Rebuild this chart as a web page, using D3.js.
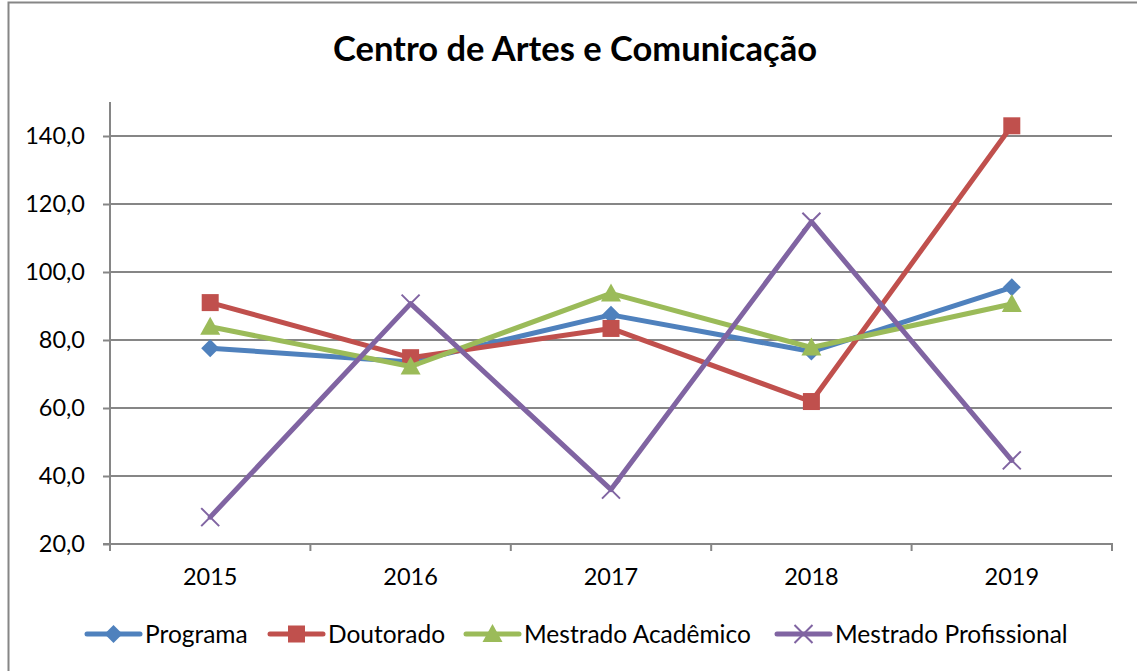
<!DOCTYPE html>
<html>
<head>
<meta charset="utf-8">
<script src="https://cdn.jsdelivr.net/npm/d3@7"></script>
<style>
  body { margin: 0; background: #fff; }
  text { font-family: Lato, "Open Sans", sans-serif; fill: #000; }
</style>
</head>
<body>
<div id="chart"></div>
<script>
var years = ["2015", "2016", "2017", "2018", "2019"];
var seriesNames = ["Programa", "Doutorado", "Mestrado Acadêmico", "Mestrado Profissional"];
var programa = [77.6, 73.5, 87.4, 76.6, 95.5];
var doutorado = [91.0, 74.8, 83.4, 61.9, 143.0];
var mestradoAcademico = [83.9, 72.2, 93.7, 77.8, 90.6];
var mestradoProfissional = [27.9, 90.7, 36.0, 114.8, 44.6];
var yTicks = [20, 40, 60, 80, 100, 120, 140];

var colors = ["#4F81BD", "#C0504D", "#9BBB59", "#8064A2"];
var markers = ["diamond", "square", "triangle", "x"];
var allValues = [programa, doutorado, mestradoAcademico, mestradoProfissional];

var svgWidth = 1137;
var svgHeight = 671;

var margin = { top: 102, right: 25, bottom: 127, left: 110 };
var width = svgWidth - margin.left - margin.right;
var height = svgHeight - margin.top - margin.bottom;

var svg = d3.select("#chart")
    .append("svg")
    .attr("width", svgWidth)
    .attr("height", svgHeight);

// outer frame (only left and top edges visible in the original)
svg.append("path")
    .attr("d", "M8.5,671 L8.5,2.5 L1137,2.5")
    .attr("fill", "none")
    .attr("stroke", "#868686")
    .attr("stroke-width", 2);

svg.append("text")
    .attr("x", 575)
    .attr("y", 61)
    .attr("text-anchor", "middle")
    .style("font-size", "34.5px")
    .style("font-weight", "bold")
    .text("Centro de Artes e Comunicação");

var chartGroup = svg.append("g")
    .attr("transform", `translate(${margin.left}, ${margin.top})`);

var xScale = d3.scaleBand().domain(years).range([0, width]);
var yScale = d3.scaleLinear().domain([20, 150]).range([height, 0]);

// gridlines
chartGroup.append("g")
    .selectAll("line")
    .data(yTicks.slice(1))
    .enter()
    .append("line")
    .attr("x1", 0)
    .attr("x2", width)
    .attr("y1", d => yScale(d))
    .attr("y2", d => yScale(d))
    .attr("stroke", "#868686")
    .attr("stroke-width", 2);

// y axis
var leftAxis = d3.axisLeft(yScale)
    .tickValues(yTicks)
    .tickSize(7)
    .tickPadding(18)
    .tickFormat(d => d3.format(".1f")(d).replace(".", ","));

var yAxis = chartGroup.append("g").call(leftAxis);
yAxis.select(".domain").attr("d", `M-7,${height}H0V0`);

// x axis
var bottomAxis = d3.axisBottom(xScale).tickSize(0).tickPadding(24);
var xAxis = chartGroup.append("g")
    .attr("transform", `translate(0, ${height})`)
    .call(bottomAxis);
xAxis.select(".domain").attr("d", `M0,0H${width}V7`);

xAxis.append("g")
    .selectAll("line")
    .data(years)
    .enter()
    .append("line")
    .attr("x1", d => xScale(d))
    .attr("x2", d => xScale(d))
    .attr("y1", 0)
    .attr("y2", 7)
    .attr("stroke", "#868686")
    .attr("stroke-width", 2);

[yAxis, xAxis].forEach(function (ax) {
    ax.selectAll(".domain").attr("stroke", "#868686").attr("stroke-width", 2).attr("fill", "none");
    ax.selectAll(".tick line").attr("stroke", "#868686").attr("stroke-width", 2);
    ax.selectAll(".tick text").style("font-size", "23.5px").style("font-family", "Lato, sans-serif");
});

function drawMarker(g, type, color) {
    if (type === "diamond") {
        g.append("path").attr("d", "M0,-9L9,0L0,9L-9,0Z").attr("fill", color);
    } else if (type === "square") {
        g.append("rect").attr("x", -8.5).attr("y", -8.5).attr("width", 17).attr("height", 17).attr("fill", color);
    } else if (type === "triangle") {
        g.append("path").attr("d", "M0,-10L10,8L-10,8Z").attr("fill", color);
    } else {
        g.append("path").attr("d", "M-9,-9L9,9M-9,9L9,-9").attr("stroke", color).attr("stroke-width", 2).attr("fill", "none");
    }
}

var line = d3.line()
    .x((d, i) => xScale(years[i]) + xScale.bandwidth() / 2)
    .y(d => yScale(d));

allValues.forEach(function (vals, s) {
    var g = chartGroup.append("g");
    g.append("path")
        .datum(vals)
        .attr("d", line)
        .attr("fill", "none")
        .attr("stroke", colors[s])
        .attr("stroke-width", 5)
        .attr("stroke-linejoin", "round")
        .attr("stroke-linecap", "round");
    vals.forEach(function (v, i) {
        var m = g.append("g")
            .attr("transform", `translate(${xScale(years[i]) + xScale.bandwidth() / 2}, ${yScale(v)})`);
        drawMarker(m, markers[s], colors[s]);
    });
});

// legend
var legendY = 634;
var legendX = [87, 270, 466, 777];
var legend = svg.append("g");
seriesNames.forEach(function (name, s) {
    var item = legend.append("g").attr("transform", `translate(${legendX[s]}, ${legendY})`);
    item.append("line")
        .attr("x1", 0).attr("x2", 53)
        .attr("y1", 0).attr("y2", 0)
        .attr("stroke", colors[s])
        .attr("stroke-width", 5)
        .attr("stroke-linecap", "round");
    var m = item.append("g").attr("transform", "translate(26.5,0)");
    drawMarker(m, markers[s], colors[s]);
    item.append("text")
        .attr("x", 58)
        .attr("y", 8.5)
        .style("font-size", "24.5px")
        .text(name);
});
</script>
</body>
</html>
